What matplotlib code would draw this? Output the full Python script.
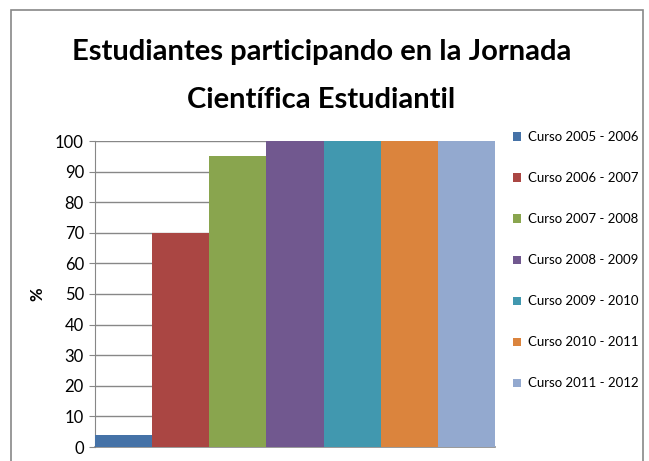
import matplotlib.pyplot as plt
from matplotlib.patches import Rectangle

# datos
cursos = ['Curso 2005 - 2006', 'Curso 2006 - 2007', 'Curso 2007 - 2008',
          'Curso 2008 - 2009', 'Curso 2009 - 2010', 'Curso 2010 - 2011',
          'Curso 2011 - 2012']
porcentajes = [4, 70, 95, 100, 100, 100, 100]
colores = ['#4572A7', '#AA4643', '#89A54E', '#71588F', '#4198AF', '#DB843D', '#93A9CF']

plt.rcParams['font.family'] = ['Lato', 'DejaVu Sans']

fig = plt.figure(figsize=(6.49, 4.61), dpi=100)
ax = fig.add_axes([95 / 649, 1 - 447 / 461, 400 / 649, 306 / 461])

for i, (c, v, col) in enumerate(zip(cursos, porcentajes, colores)):
    ax.bar(i, v, width=1, align='edge', color=col, label=c, zorder=3)

ax.set_xlim(0, 7)
ax.set_ylim(0, 100)
ax.set_yticks(range(0, 101, 10))
ax.set_xticks([])
ax.grid(axis='y', color='#878787', linewidth=1, zorder=0)
for s in ['top', 'right']:
    ax.spines[s].set_visible(False)
ax.spines['left'].set_color('#878787')
ax.spines['bottom'].set_color('#878787')
ax.spines['bottom'].set_linewidth(1.2)
ax.tick_params(axis='y', length=4, color='#878787', labelsize=12, pad=4)
ax.set_ylabel('%', fontsize=12, fontweight='bold', labelpad=7)

fig.text(0.495, 1 - 52 / 461, 'Estudiantes participando en la Jornada',
         ha='center', va='center', fontsize=21, fontweight='bold')
fig.text(0.495, 1 - 100 / 461, 'Científica Estudiantil',
         ha='center', va='center', fontsize=21, fontweight='bold')

leg = fig.legend(loc='upper left', bbox_to_anchor=(508 / 649, 1 - 126 / 461),
                 frameon=False, fontsize=9.5, handlelength=0.6, handleheight=0.6,
                 handletextpad=0.5, labelspacing=2.2, borderaxespad=0)

# marco del gráfico
fig.patches.append(Rectangle((11 / 649, -0.05), 632 / 649, 1 - 10 / 461 + 0.05,
                             transform=fig.transFigure, fill=False,
                             edgecolor='#878787', linewidth=1.2))

fig.savefig('out.png', dpi=100)
